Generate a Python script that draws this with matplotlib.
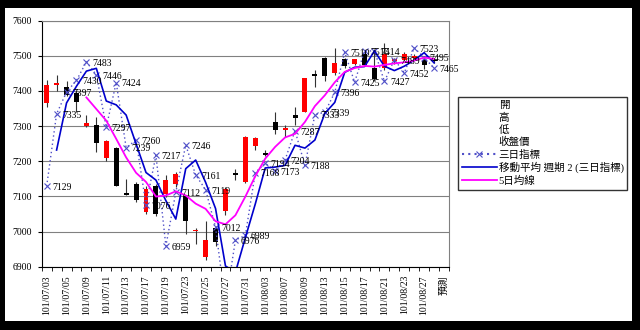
import numpy as np
import pandas as pd
import matplotlib.pyplot as plt
from matplotlib.lines import Line2D
from matplotlib.patches import Rectangle

plt.rcParams['font.family'] = ['Liberation Serif', 'Noto Sans CJK TC']

# 交易日 (最後一格為預測)
dates = ['101/07/03', '101/07/04', '101/07/05', '101/07/06', '101/07/09',
         '101/07/10', '101/07/11', '101/07/12', '101/07/13', '101/07/16',
         '101/07/17', '101/07/18', '101/07/19', '101/07/20', '101/07/23',
         '101/07/24', '101/07/25', '101/07/26', '101/07/27', '101/07/30',
         '101/07/31', '101/08/01', '101/08/03', '101/08/06', '101/08/07',
         '101/08/08', '101/08/09', '101/08/10', '101/08/13', '101/08/14',
         '101/08/15', '101/08/16', '101/08/17', '101/08/20', '101/08/21',
         '101/08/22', '101/08/23', '101/08/24', '101/08/27', '101/08/28',
         '預測']

# 開 高 低 收
opens = [7365, 7417, 7412, 7393, 7300, 7303, 7208, 7239, 7111, 7134,
         7055, 7131, 7106, 7136, 7101, 7001, 6929, 7010, 7058, 7166,
         7141, 7243, 7223, 7312, 7289, 7331, 7341, 7448, 7495, 7450,
         7490, 7477, 7504, 7466, 7466, 7484, 7489, 7493, 7489, 7488]
highs = [7431, 7446, 7427, 7403, 7331, 7327, 7260, 7241, 7150, 7141,
         7129, 7136, 7160, 7169, 7103, 7010, 7031, 7017, 7127, 7179,
         7272, 7270, 7232, 7341, 7303, 7355, 7438, 7460, 7497, 7522,
         7493, 7492, 7510, 7514, 7537, 7495, 7510, 7505, 7500, 7495]
lows = [7355, 7401, 7386, 7341, 7298, 7227, 7202, 7129, 7103, 7084,
        7049, 7043, 7098, 7127, 6993, 6965, 6919, 6960, 7046, 7146,
        7139, 7231, 7216, 7279, 7270, 7303, 7339, 7412, 7427, 7446,
        7465, 7475, 7470, 7428, 7461, 7478, 7485, 7488, 7463, 7480]
closes = [7417, 7423, 7390, 7369, 7309, 7252, 7258, 7131, 7105, 7090,
          7122, 7050, 7146, 7165, 7031, 7005, 6976, 6969, 7122, 7160,
          7270, 7267, 7219, 7289, 7294, 7322, 7436, 7444, 7443, 7479,
          7470, 7490, 7475, 7433, 7504, 7490, 7506, 7500, 7475, 7485]

# 三日指標
index3 = [7129, 7335, 7397, 7430, 7483, 7446, 7297, 7424, 7239, 7260,
          7076, 7217, 6959, 7112, 7246, 7161, 7119, 7012, 6792, 6976,
          6989, 7168, 7194, 7173, 7204, 7287, 7188, 7333, 7339, 7396,
          7510, 7425, 7514, 7514, 7427, 7489, 7452, 7523, 7495, 7465,
          np.nan]

x = np.arange(len(dates))
xk = x[:len(opens)]
o = np.array(opens, float)
c = np.array(closes, float)

fig = plt.figure(figsize=(6.4, 3.3), dpi=100, facecolor='black')
fig.patches.append(Rectangle((5 / 640, 9 / 330), 627 / 640, 313 / 330,
                             transform=fig.transFigure, facecolor='white',
                             edgecolor='none', zorder=-10))
ax = fig.add_axes([41.7 / 640, 63.3 / 330, 407.3 / 640, 246 / 330])
ax.set_zorder(1)

# K線
ax.vlines(xk, lows, highs, color='#333333', lw=0.8, zorder=2)
body_col = np.where(c >= o, '#FF0000', '#000000')
body_h = np.maximum(np.abs(c - o), 3)
ax.bar(xk, body_h, bottom=np.minimum(o, c), width=0.5, color=body_col, zorder=3)

# 三日指標與其移動平均
ax.plot(x, index3, ls=(0, (1, 2)), color='#5050C8', lw=1, marker='x', ms=4,
        mew=0.8, zorder=4)
ma2 = pd.Series(index3).rolling(2).mean()
ax.plot(x, ma2, color='#0000CC', lw=1.2, zorder=5)

# 5日均線
ma5 = pd.Series(closes).rolling(5).mean()
ax.plot(xk, ma5, color='#FF00FF', lw=1.3, zorder=5)

for xi, v in zip(x, index3):
    if np.isnan(v) or v < 6900:
        continue
    ax.annotate(f'{v:.0f}', (xi, v), xytext=(4, -1), textcoords='offset points',
                fontsize=7, ha='left', va='center', zorder=6)

ax.set_xlim(-0.5, len(dates) - 0.5)
ax.set_ylim(6900, 7600)
ax.set_yticks(range(6900, 7601, 100))
ax.tick_params(axis='y', labelsize=7, length=3, pad=4)
ax.set_xticks(x[::2])
ax.set_xticklabels(dates[::2], rotation=90, fontsize=7)
ax.set_xticks(np.arange(-0.5, len(dates)), minor=True)
ax.tick_params(axis='x', which='major', length=0, pad=6)
ax.tick_params(axis='x', which='minor', length=3)
ax.yaxis.grid(True, color='#808080', lw=0.8)
ax.set_axisbelow(True)
for s in ('top', 'right'):
    ax.spines[s].set_color('#808080')

handles = [Line2D([], [], color='none'), Line2D([], [], color='none'),
           Line2D([], [], color='none'), Line2D([], [], color='none'),
           Line2D([], [], ls=(0, (1, 2)), color='#5050C8', marker='x', ms=4, mew=0.8),
           Line2D([], [], color='#0000CC', lw=1.2),
           Line2D([], [], color='#FF00FF', lw=1.3)]
labels = ['開', '高', '低', '收盤價', '三日指標', '移動平均 週期 2 (三日指標)', '5日均線']
fig.legend(handles, labels, loc='upper left', bbox_to_anchor=(458 / 640, 1 - 97 / 330),
           frameon=True, fancybox=False, edgecolor='black', fontsize=7.6,
           borderaxespad=0, handlelength=3.3, handletextpad=0.2, numpoints=1,
           labelspacing=0.22, borderpad=0.35)

fig.savefig('out.png', dpi=100, facecolor='black')
